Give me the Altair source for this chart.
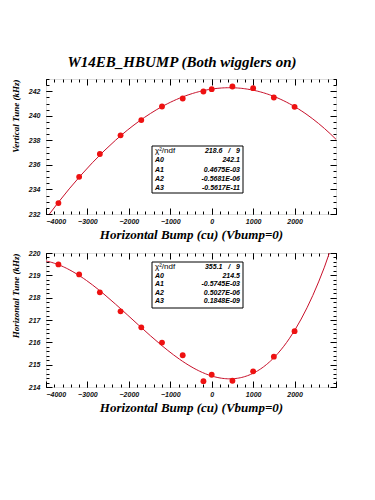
import altair as alt
import pandas as pd

# ---- data ----
bump = [-3700, -3200, -2700, -2200, -1700, -1200, -700, -200, 0, 500, 1000, 1500, 2000]
vtune = [232.89, 235.03, 236.89, 238.41, 239.65, 240.76, 241.41, 241.98, 242.17, 242.39, 242.25, 241.49, 240.73]
htune = [219.49, 219.04, 218.24, 217.39, 216.67, 215.99, 215.42, 214.26, 214.55, 214.28, 214.70, 215.36, 216.50]

main_title = "W14EB_HBUMP (Both wigglers on)"
x_title = "Horizontal Bump (cu) (Vbump=0)"
x_domain = [-4000, 3000]
x_labels = [-4000, -3000, -2000, -1000, 0, 1000, 2000]
x_major = [-4000, -3000, -2000, -1000, 0, 1000, 2000, 3000]
x_minor = list(range(-4000, 3001, 200))

v_title = "Vertical Tune (kHz)"
v_domain = [232, 243]
v_major = [232, 234, 236, 238, 240, 242]
v_minor = [232 + 0.5 * i for i in range(23)]

h_title = "Horizontal Tune (kHz)"
h_domain = [214, 220]
h_major = [214, 215, 216, 217, 218, 219, 220]
h_minor = [round(214 + 0.2 * i, 2) for i in range(31)]

stat_names = ["χ²/ndf", "A0", "A1", "A2", "A3"]
NB = "\u00a0"
v_stats = ["218.6" + NB * 3 + "/" + NB * 3 + "9", "242.1", "0.4675E-03", "-0.5681E-06", "-0.5617E-11"]
h_stats = ["355.1" + NB * 3 + "/" + NB * 3 + "9", "214.5", "-0.5745E-03", "0.5027E-06", "0.1848E-09"]

W = 290
RED = "#ee1111"
LINE = "#c8102a"
SERIF = "Liberation Serif"
SANS = "Liberation Sans"


def panel(yvals, ytitle, ydom, ymaj, ymin, stats, box, rows, h, title=None):
    df = pd.DataFrame({"x": bump, "y": yvals})
    base = alt.Chart(df)
    xs = alt.Scale(domain=x_domain, nice=False, zero=False)
    ys = alt.Scale(domain=ydom, nice=False, zero=False)

    def axis_layer(xaxis, yaxis):
        return base.mark_point(opacity=0).encode(
            x=alt.X("x:Q", scale=xs, axis=xaxis),
            y=alt.Y("y:Q", scale=ys, axis=yaxis),
        )

    def tick_axis(vals, orient, size):
        return alt.Axis(values=vals, orient=orient, offset=-size, tickSize=size,
                        labels=False, domain=False, grid=False, title=None,
                        tickColor="black", tickWidth=1)

    labels = axis_layer(
        alt.Axis(values=x_labels, orient="bottom", ticks=False, domain=False, grid=False,
                 format="d", labelFont=SANS, labelFontSize=7, labelFontStyle="italic",
                 labelFontWeight="bold", labelColor="#111", labelPadding=3,
                 title=x_title, titleFont=SERIF, titleFontSize=13, titleFontStyle="italic",
                 titleFontWeight="bold", titleColor="black", titlePadding=4),
        alt.Axis(values=ymaj, orient="left", ticks=False, domain=False, grid=False,
                 format="d", labelFont=SANS, labelFontSize=7, labelFontStyle="italic",
                 labelFontWeight="bold", labelColor="#111", labelPadding=6,
                 title=ytitle, titleFont=SERIF, titleFontSize=9, titleFontStyle="italic",
                 titleFontWeight="bold", titleColor="black", titleAnchor="end",
                 titlePadding=8),
    )
    major_a = axis_layer(tick_axis(x_major, "bottom", 6), tick_axis(ymaj, "left", 6))
    major_b = axis_layer(tick_axis(x_major, "top", 6), tick_axis(ymaj, "right", 6))
    minor_a = axis_layer(tick_axis(x_minor, "bottom", 3), tick_axis(ymin, "left", 3))
    minor_b = axis_layer(tick_axis(x_minor, "top", 3), tick_axis(ymin, "right", 3))

    curve = base.transform_regression(
        "x", "y", method="poly", order=3, extent=x_domain
    ).mark_line(clip=True, color=LINE, strokeWidth=1).encode(
        x=alt.X("x:Q", scale=xs, axis=None), y=alt.Y("y:Q", scale=ys, axis=None)
    )
    points = base.mark_circle(size=34, color=RED, opacity=1).encode(
        x=alt.X("x:Q", scale=xs, axis=None), y=alt.Y("y:Q", scale=ys, axis=None)
    )

    one = pd.DataFrame({"k": [0]})
    rect = alt.Chart(one).mark_rect(fill="white", stroke="black", strokeWidth=1).encode(
        x=alt.value(box[0]), x2=alt.value(box[1]), y=alt.value(box[2]), y2=alt.value(box[3])
    )
    texts = []
    for i, (name, val) in enumerate(zip(stat_names, stats)):
        texts.append(alt.Chart(one).mark_text(
            text=name, align="left", baseline="middle", font=SANS,
            fontSize=8 if i == 0 else 7,
            fontStyle="italic" if i else "normal", fontWeight="bold" if i else "normal",
            color="black").encode(x=alt.value(box[0] + 3), y=alt.value(rows[i])))
        texts.append(alt.Chart(one).mark_text(
            text=val, align="right", baseline="middle", font=SANS, fontSize=7,
            fontStyle="italic", fontWeight="bold", color="black"
        ).encode(x=alt.value(box[1] - 3), y=alt.value(rows[i])))

    layers = [curve, points, rect] + texts + [labels, major_a, major_b, minor_a, minor_b]
    if title:
        layers.append(alt.Chart(one).mark_text(
            text=title, align="center", baseline="middle", font=SERIF, fontSize=15,
            fontStyle="italic", fontWeight="bold", color="black"
        ).encode(x=alt.value(136), y=alt.value(-17)))
    return alt.layer(*layers).resolve_axis(x="independent", y="independent").properties(
        width=W, height=h)


top = panel(vtune, v_title, v_domain, v_major, v_minor, v_stats,
            (106, 197, 67, 114), [72, 81, 90.5, 100, 109], 135, title=main_title)
bottom = panel(htune, h_title, h_domain, h_major, h_minor, h_stats,
               (106, 197, 9, 55), [14, 22.5, 31, 39.5, 48], 134)

chart = alt.vconcat(top, bottom, spacing=39).properties(
    bounds="flush", padding={"left": 2, "top": 46, "right": 5, "bottom": 5}
).configure_view(stroke="black", strokeWidth=1).configure(background="white")

chart.save("out.html", embed_options={"renderer": "svg", "actions": False})
